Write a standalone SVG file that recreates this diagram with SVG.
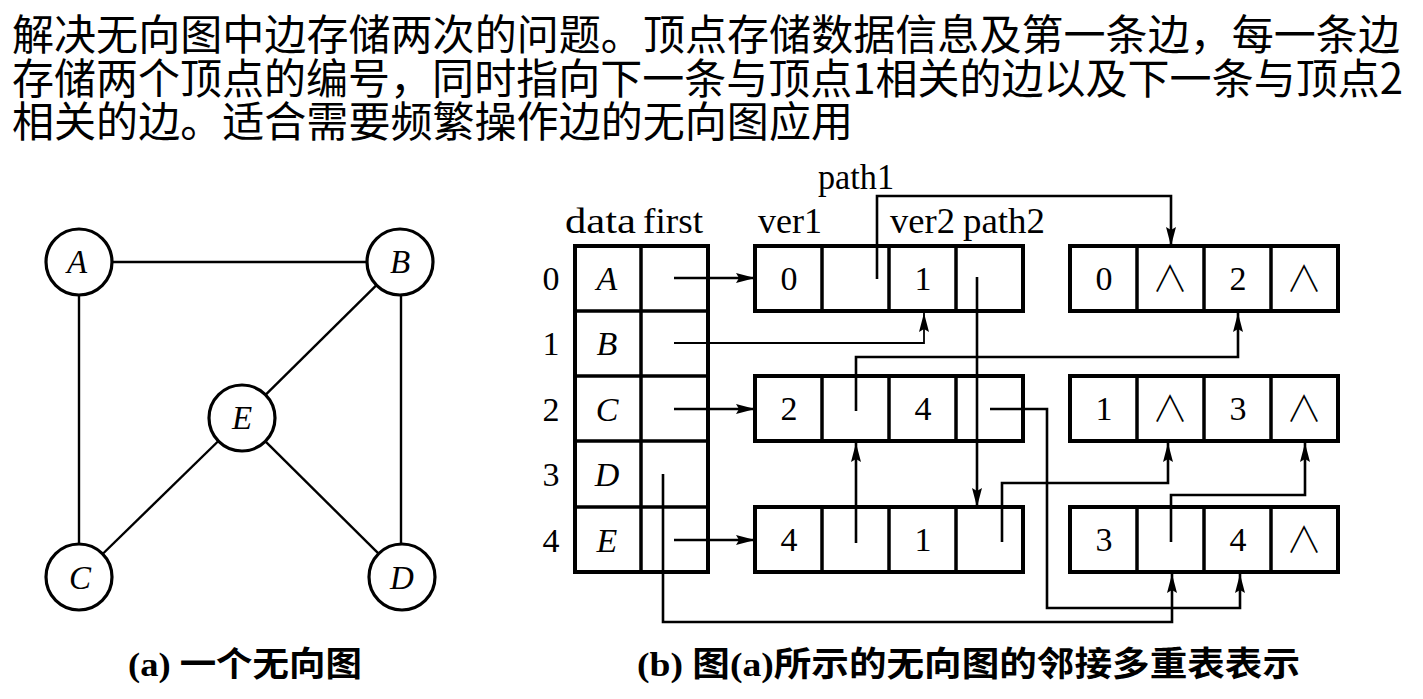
<svg xmlns="http://www.w3.org/2000/svg" width="1423" height="699" viewBox="0 0 1423 699">
<style>
.top{font-family:"Noto Sans CJK SC","Noto Sans",sans-serif;font-size:42px;fill:#000}
.ser{font-family:"Liberation Serif","Noto Sans CJK SC",serif;fill:#000}
.hdr{font-size:36px}
.dig{font-size:34px;text-anchor:middle}
.it{font-style:italic;font-size:34px;text-anchor:middle}
.gl{font-size:33px}
.nul{font-family:"Noto Sans CJK SC","DejaVu Sans",sans-serif;font-weight:300;font-size:36px;text-anchor:middle;fill:#000}
.cap{font-family:"Liberation Serif","Noto Sans CJK SC",serif;font-size:34px;font-weight:bold;fill:#000}
.box{fill:#fff;stroke:#000;stroke-width:4}
.div{stroke:#000;stroke-width:3.5}
.vc{fill:#fff;stroke:#000;stroke-width:3.2}
.ge{stroke:#000;stroke-width:2.4}
.conn path{fill:none;stroke:#000;stroke-width:2.6}
</style>
<defs>
<marker id="ah" markerUnits="userSpaceOnUse" markerWidth="20" markerHeight="12" refX="19" refY="5" orient="auto">
<path d="M0,0 L19,5 L0,10 L3,5 z" fill="#000"/>
</marker>
</defs>
<rect width="1423" height="699" fill="#fff"/>

<g id="description">
<text class="top" x="12" y="50" textLength="1388" lengthAdjust="spacingAndGlyphs">解决无向图中边存储两次的问题。顶点存储数据信息及第一条边，每一条边</text>
<text class="top" x="12" y="94" textLength="1391" lengthAdjust="spacingAndGlyphs">存储两个顶点的编号，同时指向下一条与顶点1相关的边以及下一条与顶点2</text>
<text class="top" x="12" y="137" textLength="841" lengthAdjust="spacingAndGlyphs">相关的边。适合需要频繁操作边的无向图应用</text>
</g>

<g id="graph-edges">
<line class="ge" x1="112" y1="262" x2="367" y2="262"/>
<line class="ge" x1="79" y1="295" x2="79" y2="544"/>
<line class="ge" x1="401" y1="295" x2="401" y2="544"/>
<line class="ge" x1="376.5" y1="285.2" x2="265.5" y2="394.8"/>
<line class="ge" x1="218.4" y1="441" x2="102.6" y2="554"/>
<line class="ge" x1="265.4" y1="441.3" x2="378.6" y2="553.7"/>
</g>
<g id="vertex-A"><circle class="vc" cx="79" cy="262" r="33"/><text class="ser it gl" x="77" y="273">A</text></g>
<g id="vertex-B"><circle class="vc" cx="400" cy="262" r="33"/><text class="ser it gl" x="400" y="273">B</text></g>
<g id="vertex-E"><circle class="vc" cx="242" cy="418" r="33"/><text class="ser it gl" x="242" y="429">E</text></g>
<g id="vertex-C"><circle class="vc" cx="79" cy="577" r="33"/><text class="ser it gl" x="80" y="589">C</text></g>
<g id="vertex-D"><circle class="vc" cx="402" cy="577" r="33"/><text class="ser it gl" x="402" y="589">D</text></g>

<g id="headers" class="ser hdr">
<text x="565" y="233" textLength="71" lengthAdjust="spacingAndGlyphs">data</text>
<text x="643" y="233" textLength="60" lengthAdjust="spacingAndGlyphs">first</text>
<text x="758" y="233" textLength="64" lengthAdjust="spacingAndGlyphs">ver1</text>
<text x="890" y="233" textLength="65" lengthAdjust="spacingAndGlyphs">ver2</text>
<text x="963" y="233" textLength="82" lengthAdjust="spacingAndGlyphs">path2</text>
<text x="818" y="189" textLength="76" lengthAdjust="spacingAndGlyphs">path1</text>
</g>

<g id="vertex-table">
<rect class="box" x="575" y="246" width="133" height="326"/>
<line class="div" x1="641" y1="246" x2="641" y2="572"/>
<line class="div" x1="575" y1="311" x2="708" y2="311"/>
<line class="div" x1="575" y1="376" x2="708" y2="376"/>
<line class="div" x1="575" y1="441" x2="708" y2="441"/>
<line class="div" x1="575" y1="507" x2="708" y2="507"/>
<g class="ser">
<text class="dig" x="551" y="290">0</text>
<text class="dig" x="551" y="355">1</text>
<text class="dig" x="551" y="421">2</text>
<text class="dig" x="551" y="486">3</text>
<text class="dig" x="551" y="552">4</text>
<text class="it" x="607" y="290">A</text>
<text class="it" x="607" y="355">B</text>
<text class="it" x="607" y="421">C</text>
<text class="it" x="607" y="486">D</text>
<text class="it" x="607" y="552">E</text>
</g>
</g>

<g id="edge-0-1">
<rect class="box" x="755" y="246" width="268" height="65"/>
<line class="div" x1="822" y1="246" x2="822" y2="311"/><line class="div" x1="889" y1="246" x2="889" y2="311"/><line class="div" x1="956" y1="246" x2="956" y2="311"/>
<text class="ser dig" x="789" y="290">0</text><text class="ser dig" x="923" y="290">1</text>
</g>
<g id="edge-0-2">
<rect class="box" x="1070" y="246" width="268" height="65"/>
<line class="div" x1="1137" y1="246" x2="1137" y2="311"/><line class="div" x1="1204" y1="246" x2="1204" y2="311"/><line class="div" x1="1271" y1="246" x2="1271" y2="311"/>
<text class="ser dig" x="1104" y="290">0</text><text class="nul" x="1170" y="292">∧</text><text class="ser dig" x="1238" y="290">2</text><text class="nul" x="1304" y="292">∧</text>
</g>
<g id="edge-2-4">
<rect class="box" x="755" y="376" width="268" height="65"/>
<line class="div" x1="822" y1="376" x2="822" y2="441"/><line class="div" x1="889" y1="376" x2="889" y2="441"/><line class="div" x1="956" y1="376" x2="956" y2="441"/>
<text class="ser dig" x="789" y="420">2</text><text class="ser dig" x="923" y="420">4</text>
</g>
<g id="edge-1-3">
<rect class="box" x="1070" y="376" width="268" height="65"/>
<line class="div" x1="1137" y1="376" x2="1137" y2="441"/><line class="div" x1="1204" y1="376" x2="1204" y2="441"/><line class="div" x1="1271" y1="376" x2="1271" y2="441"/>
<text class="ser dig" x="1104" y="420">1</text><text class="nul" x="1170" y="422">∧</text><text class="ser dig" x="1238" y="420">3</text><text class="nul" x="1304" y="422">∧</text>
</g>
<g id="edge-4-1">
<rect class="box" x="755" y="507" width="268" height="65"/>
<line class="div" x1="822" y1="507" x2="822" y2="572"/><line class="div" x1="889" y1="507" x2="889" y2="572"/><line class="div" x1="956" y1="507" x2="956" y2="572"/>
<text class="ser dig" x="789" y="551">4</text><text class="ser dig" x="923" y="551">1</text>
</g>
<g id="edge-3-4">
<rect class="box" x="1070" y="507" width="268" height="65"/>
<line class="div" x1="1137" y1="507" x2="1137" y2="572"/><line class="div" x1="1204" y1="507" x2="1204" y2="572"/><line class="div" x1="1271" y1="507" x2="1271" y2="572"/>
<text class="ser dig" x="1104" y="551">3</text><text class="ser dig" x="1238" y="551">4</text><text class="nul" x="1304" y="553">∧</text>
</g>

<g id="connectors" class="conn">
<path d="M674,278 H755" marker-end="url(#ah)"/>
<path d="M674,343 H924 V313" marker-end="url(#ah)" style="stroke-width:1.8"/>
<path d="M674,409 H755" marker-end="url(#ah)"/>
<path d="M663,474 V622 H1172 V574" marker-end="url(#ah)"/>
<path d="M674,540 H755" marker-end="url(#ah)"/>
<path d="M877,279 V196 H1171 V246" marker-end="url(#ah)"/>
<path d="M977,277 V507" marker-end="url(#ah)"/>
<path d="M856,411 V357 H1238 V313" marker-end="url(#ah)"/>
<path d="M990,409 H1047 V608 H1240 V574" marker-end="url(#ah)"/>
<path d="M856,543 V443" marker-end="url(#ah)"/>
<path d="M1002,542 V483 H1168 V443" marker-end="url(#ah)"/>
<path d="M1171,542 V495 H1305 V443" marker-end="url(#ah)"/>
</g>

<g id="captions">
<text class="cap" x="128" y="676" textLength="234" lengthAdjust="spacingAndGlyphs">(a) 一个无向图</text>
<text class="cap" x="637" y="676" textLength="663" lengthAdjust="spacingAndGlyphs">(b) 图(a)所示的无向图的邻接多重表表示</text>
</g>
</svg>
